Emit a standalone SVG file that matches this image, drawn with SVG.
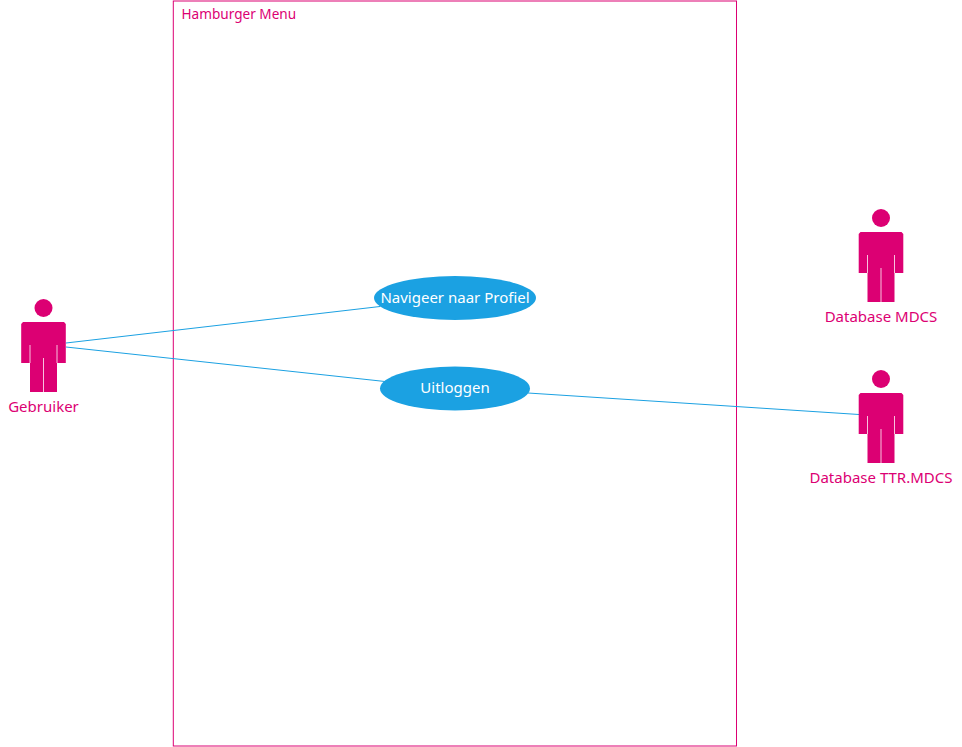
<svg xmlns="http://www.w3.org/2000/svg" width="962" height="747" viewBox="0 0 962 747">
<style>
text{font-family:"Noto Sans","Open Sans","Liberation Sans",sans-serif}
.lbl{fill:#DC0073;font-size:15px;text-anchor:middle}
.uc{fill:#FFFFFF;font-size:15px;text-anchor:middle}
.ell{fill:#1BA1E2}
.fig{fill:#DC0073}
.cut{stroke:#F7C3DE;stroke-width:1;fill:none}
.conn{stroke:#1BA1E2;stroke-width:1;fill:none}
</style>
<defs>
<g id="actor">
<circle cx="0" cy="-36" r="9" class="fig"/>
<path class="fig" d="M-20.5,-22 L20.5,-22 L22.3,-20 L22.3,19 L13.5,19 L13.5,48 L-13.5,48 L-13.5,19 L-22.3,19 L-22.3,-20 Z"/>
<path class="cut" d="M-13.5,1 V19 M13.5,1 V19 M0,14 V48"/>
</g>
</defs>
<g id="boundary">
<rect x="173.300" y="1" width="563.200" height="745" fill="#FFFFFF" stroke="#DC0073" stroke-width="1"/>
<text x="181.500" y="19" style="font-size:13.600px;fill:#DC0073">Hamburger Menu</text>
</g>
<g id="connectors">
<line class="conn" x1="66" y1="343" x2="380" y2="306.500"/>
<line class="conn" x1="66" y1="347" x2="385" y2="381.500"/>
<line class="conn" x1="528" y1="393" x2="859" y2="414.500"/>
</g>
<g id="gebruiker"><use href="#actor" x="43.500" y="344"/><text class="lbl" x="43.500" y="412">Gebruiker</text></g>
<g id="database-mdcs"><use href="#actor" x="881" y="254"/><text class="lbl" x="881" y="322">Database MDCS</text></g>
<g id="database-ttr"><use href="#actor" x="881" y="415"/><text class="lbl" x="881" y="483">Database TTR.MDCS</text></g>
<g id="uc-profiel"><ellipse class="ell" cx="455" cy="298" rx="81" ry="22"/><text class="uc" x="455" y="303">Navigeer naar Profiel</text></g>
<g id="uc-uitloggen"><ellipse class="ell" cx="455" cy="388.500" rx="75" ry="22"/><text class="uc" x="455" y="393">Uitloggen</text></g>
</svg>
